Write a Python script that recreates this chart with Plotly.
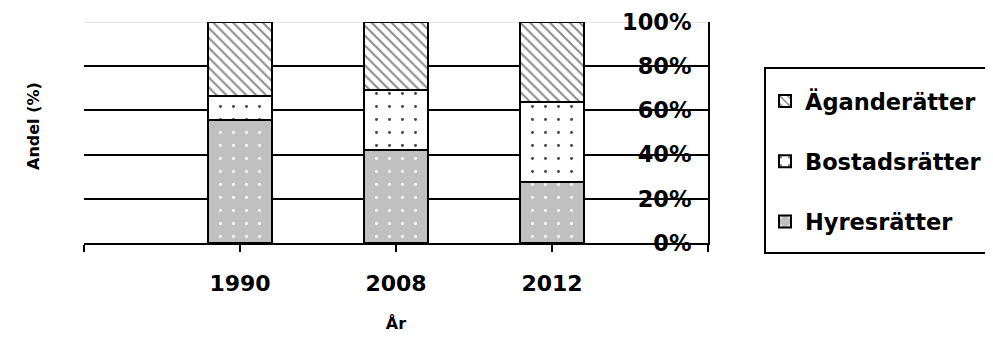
import plotly.graph_objects as go

years = ["1990", "2008", "2012"]
hyres = [55.7, 42.1, 27.7]
bostad = [10.8, 27.1, 36.2]
agande = [33.5, 30.8, 36.1]
series_names = ["Hyresrätter", "Bostadsrätter", "Äganderätter"]
y_ticks = [0, 20, 40, 60, 80, 100]

xpos = list(range(len(years)))
FONT = "DejaVu Sans"

fig = go.Figure()
styles = [
    dict(shape=".", fgcolor="white", bgcolor="#c0c0c0", size=13, solidity=0.04),
    dict(shape=".", fgcolor="#444444", bgcolor="white", size=13, solidity=0.04),
    dict(shape="\\", fgcolor="#8a8a8a", bgcolor="white", size=7, solidity=0.28),
]
ranks = [3, 2, 1]
for name, vals, pat, rk in zip(series_names, [hyres, bostad, agande], styles, ranks):
    fig.add_trace(go.Bar(
        x=xpos, y=vals, name=name, width=0.405, legendgroup=name, legendrank=rk,
        marker=dict(color=pat["bgcolor"], pattern=dict(fillmode="replace", **pat),
                    line=dict(color="black", width=2)),
    ))

# page body has an 8px margin: shrink the figure and shift margins to compensate
fig.update_layout(
    width=985, height=330,
    margin=dict(l=76, r=285, t=14, b=95, autoexpand=False),
    paper_bgcolor="white", plot_bgcolor="white",
    barmode="stack",
    font=dict(family=FONT, color="black", weight="bold", size=22),
    showlegend=True,
    legend=dict(
        x=(765 - 84) / 624, xanchor="left", y=0.7376, yanchor="top",
        traceorder="grouped", tracegroupgap=28,
        bgcolor="rgba(0,0,0,0)", borderwidth=0,
        font=dict(family=FONT, size=22.5, color="black", weight="bold"),
    ),
    xaxis=dict(
        range=[-1, 3],
        tickmode="array",
        tickvals=[-1] + xpos + [3],
        ticktext=[""] + years + [""],
        ticks="outside", ticklen=7, tickwidth=2, tickcolor="black",
        ticklabelstandoff=13,
        showline=True, linecolor="black", linewidth=2,
        showgrid=False, zeroline=False,
        tickfont=dict(family=FONT, size=22, weight="bold", color="black"),
        title=dict(text="År", font=dict(family=FONT, size=16, weight="bold", color="black"), standoff=22),
    ),
    yaxis=dict(
        range=[0, 100], side="right",
        tickmode="array", tickvals=y_ticks, ticktext=[f"{v}%" for v in y_ticks],
        ticks="inside", ticklen=6, tickwidth=2, tickcolor="black",
        ticklabelposition="inside", ticklabeloverflow="allow", ticklabelstandoff=12,
        showline=True, linecolor="black", linewidth=2,
        showgrid=True, gridcolor="black", gridwidth=2, zeroline=False,
        tickfont=dict(family=FONT, size=22.5, weight="bold", color="black"),
    ),
    shapes=[
        dict(type="line", xref="paper", yref="y", x0=0, x1=1, y0=100, y1=100,
             line=dict(color="#e6e6e6", width=2), layer="between"),
        dict(type="rect", xref="paper", yref="paper",
             x0=(765 - 84) / 624, x1=1.6, y0=-10 / 221, y1=175 / 221,
             line=dict(color="black", width=2), fillcolor="rgba(0,0,0,0)"),
    ],
    annotations=[
        dict(text="Andel (%)", textangle=-90, xref="paper", yref="paper",
             x=(33 - 84) / 624, y=(243 - 126) / 221, xanchor="center", yanchor="middle",
             showarrow=False,
             font=dict(family=FONT, size=16, weight="bold", color="black")),
    ],
)

fig.write_html("out.html")
